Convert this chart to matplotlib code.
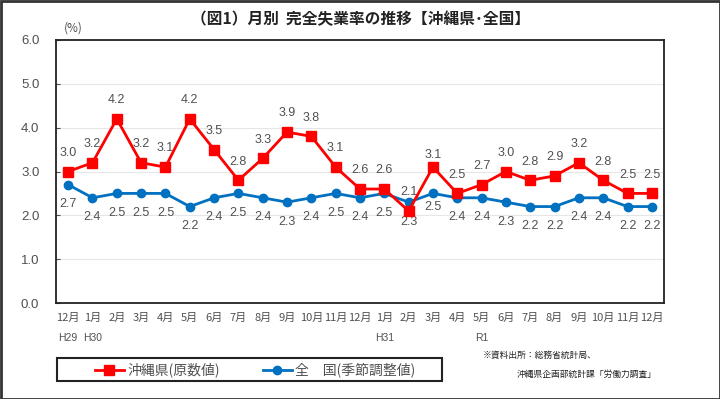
import matplotlib
matplotlib.use("Agg")
import matplotlib.pyplot as plt
from matplotlib.patches import Rectangle
from matplotlib.lines import Line2D

plt.rcParams['font.family'] = ['Noto Sans CJK JP', 'DejaVu Sans']

months = ["12月", "1月", "2月", "3月", "4月", "5月", "6月", "7月", "8月", "9月", "10月", "11月",
          "12月", "1月", "2月", "3月", "4月", "5月", "6月", "7月", "8月", "9月", "10月", "11月", "12月"]
eras = {0: "H29", 1: "H30", 13: "H31", 17: "R1"}
okinawa = [3.0, 3.2, 4.2, 3.2, 3.1, 4.2, 3.5, 2.8, 3.3, 3.9, 3.8, 3.1, 2.6,
           2.6, 2.1, 3.1, 2.5, 2.7, 3.0, 2.8, 2.9, 3.2, 2.8, 2.5, 2.5]
national = [2.7, 2.4, 2.5, 2.5, 2.5, 2.2, 2.4, 2.5, 2.4, 2.3, 2.4, 2.5, 2.4,
            2.5, 2.3, 2.5, 2.4, 2.4, 2.3, 2.2, 2.2, 2.4, 2.4, 2.2, 2.2]
yticks = [0.0, 1.0, 2.0, 3.0, 4.0, 5.0, 6.0]

RED = "#FF0000"
BLUE = "#0070C0"
GRAY = "#505050"
NUMFONT = ['Liberation Sans', 'DejaVu Sans']

fig = plt.figure(figsize=(7.2, 3.99), dpi=100)
ax = fig.add_axes([56/720, 1-303/399, (664-56)/720, (303-40)/399])

x = list(range(len(months)))
ax.plot(x, okinawa, color=RED, lw=2.0, marker="s", ms=6.5, zorder=4)
ax.plot(x, national, color=BLUE, lw=2.0, marker="o", ms=6, zorder=3)

# data labels
red_nudge = {15: 5}
blue_nudge = {15: 4}
for i, v in enumerate(okinawa):
    ax.annotate(f"{v:.1f}", (i, v), xytext=(0, 13.5 - red_nudge.get(i, 0)), textcoords="offset points",
                ha="center", va="center", fontsize=9, color=GRAY, family=NUMFONT)
for i, v in enumerate(national):
    ax.annotate(f"{v:.1f}", (i, v), xytext=(0, -14 + blue_nudge.get(i, 0)), textcoords="offset points",
                ha="center", va="center", fontsize=9, color=GRAY, family=NUMFONT)

ax.set_xlim(-0.5, len(months) - 0.5)
ax.set_ylim(0, 6)
ax.set_yticks(yticks)
ax.set_yticklabels([f"{t:.1f}" for t in yticks], color=GRAY, fontsize=9.5, family=NUMFONT)
ax.tick_params(axis="y", direction="in", length=3, color=GRAY, pad=12)
ax.set_xticks([])
ax.grid(axis="y", color="#E6E6E6", lw=0.8)
ax.set_axisbelow(True)
for s in ax.spines.values():
    s.set_color("#222222")
    s.set_linewidth(1.3)

# month labels and era labels
for i, m in enumerate(months):
    ax.text(i, -0.33, m, ha="center", va="center", fontsize=8, color=GRAY, clip_on=False)
for i, e in eras.items():
    ax.text(i, -0.79, e, ha="center", va="center", fontsize=7.5, color=GRAY,
            family=NUMFONT, clip_on=False)

# title & unit
fig.text(361/720, 1-19/399, "（図1）月別  完全失業率の推移【沖縄県･全国】", ha="center", va="center",
         fontsize=11.3, fontweight="bold", color="#222222")
fig.text(73/720, 1-28/399, "(%)", ha="center", va="center", fontsize=8.5, color=GRAY)

# legend
handles = [Line2D([], [], color=RED, lw=2.0, marker="s", ms=6.5),
           Line2D([], [], color=BLUE, lw=2.0, marker="o", ms=6)]
leg = fig.legend(handles, ["沖縄県(原数値)", "全　国(季節調整値)"], ncol=2,
                 loc="center left", bbox_to_anchor=(82/720, 1-370/399),
                 frameon=False, fontsize=10, handlelength=2.1, handletextpad=0.25,
                 columnspacing=3.1, labelcolor=GRAY)
fig.patches.append(Rectangle((57/720, 1-381/399), (442-57)/720, (381-358)/399,
                             transform=fig.transFigure, fill=False, edgecolor="#222222", lw=1.5))

# source
fig.text(483/720, 1-355/399, "※資料出所：総務省統計局、", ha="left", va="center", fontsize=6.3, color="#222222")
fig.text(657/720, 1-374/399, "沖縄県企画部統計課「労働力調査」", ha="right", va="center", fontsize=6.3, color="#222222")

# outer frame
fig.patches.append(Rectangle((0.5/720, 0.5/399), 719/720, 398/399, transform=fig.transFigure,
                             fill=False, edgecolor="#333333", lw=2))

fig.savefig("out.png", dpi=100)
